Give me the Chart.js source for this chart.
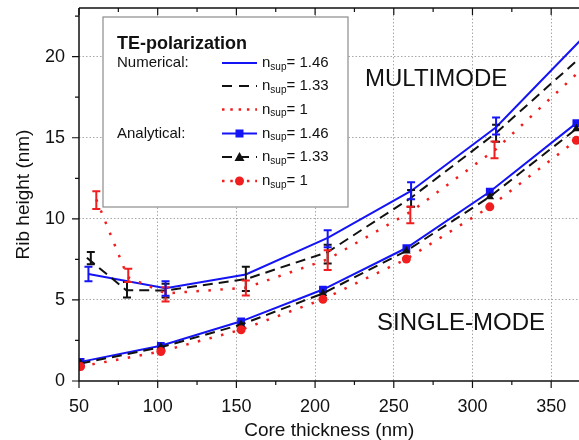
<!DOCTYPE html>
<html>
<head>
<meta charset="utf-8">
<script src="https://cdn.jsdelivr.net/npm/chart.js@4.4.0/dist/chart.umd.min.js"></script>
<style>
  html, body { margin: 0; padding: 0; background: #fff; overflow: hidden; }
  #wrap { width: 585px; height: 440px; }
</style>
</head>
<body>
<div id="wrap"><canvas id="ribChart"></canvas></div>
<script>
// numerical results (lines), TE polarization
const numX146 = [56, 105, 156, 208, 261, 315, 368];
const num146 = [6.6, 5.72, 6.57, 8.82, 11.72, 15.65, 20.95];
const numX133 = [55, 80, 105, 156, 208, 261, 315, 368];
const num133 = [7.6, 5.6, 5.58, 6.28, 7.95, 11.3, 15.3, 19.9];
const numX1 = [61, 81, 105, 156, 208, 261, 315, 368];
const num1 = [11.2, 6.4, 5.4, 5.75, 7.5, 10.45, 14.3, 19.1];

// analytical results (markers)
const anaX = [51, 102, 153, 205, 258, 311, 366];
const ana146 = [1.18, 2.17, 3.68, 5.64, 8.2, 11.67, 15.9];
const ana133 = [1.08, 2.08, 3.48, 5.4, 8.02, 11.36, 15.55];
const ana1 = [0.89, 1.82, 3.16, 5.04, 7.52, 10.74, 14.84];

// error bars on the numerical curves
const errX146 = [56, 105, 208, 261, 315];
const errLo146 = [6.15, 5.25, 8.25, 11.2, 15.2];
const errHi146 = [7.05, 6.15, 9.3, 12.25, 16.25];
const errX133 = [57.5, 80.5, 105, 156, 208, 261, 315];
const errLo133 = [7.2, 5.15, 5.15, 5.55, 7.25, 10.75, 14.75];
const errHi133 = [7.95, 6.1, 6.0, 7.05, 8.4, 11.78, 15.8];
const errX1 = [61, 81.3, 105, 156, 208, 260.5, 314];
const errLo1 = [10.6, 6.1, 4.9, 5.27, 6.85, 9.72, 13.74];
const errHi1 = [11.7, 6.92, 5.78, 6.2, 8.06, 10.75, 14.77];

const xTicks = [50, 75, 100, 125, 150, 175, 200, 225, 250, 275, 300, 325, 350];
const yTicks = [0, 2.5, 5, 7.5, 10, 12.5, 15, 17.5, 20, 22.5];

const BLUE = '#1414f5';
const RED = '#f01e1e';
const BLACK = '#111';
const FONT = '"Liberation Sans", Arial, sans-serif';

const pts = (xs, ys) => xs.map((x, i) => ({ x: x, y: ys[i] }));

const errSets = [
  { xs: errX133, lo: errLo133, hi: errHi133, color: BLACK },
  { xs: errX1, lo: errLo1, hi: errHi1, color: RED },
  { xs: errX146, lo: errLo146, hi: errHi146, color: BLUE }
];

function drawNsup(ctx, x, y, val) {
  ctx.fillStyle = BLACK;
  ctx.textAlign = 'left';
  ctx.textBaseline = 'middle';
  ctx.font = '15px ' + FONT;
  ctx.fillText('n', x, y);
  let w = ctx.measureText('n').width;
  ctx.font = '10px ' + FONT;
  ctx.fillText('sup', x + w, y + 4);
  w += ctx.measureText('sup').width;
  ctx.font = '15px ' + FONT;
  ctx.fillText('= ' + val, x + w, y);
}

const framePlugin = {
  id: 'frame',
  afterDatasetsDraw(chart) {
    const ctx = chart.ctx;
    const xs = chart.scales.x, ys = chart.scales.y;
    ctx.save();
    ctx.lineWidth = 2;
    errSets.forEach(s => {
      ctx.strokeStyle = s.color;
      s.xs.forEach((xv, i) => {
        const px = xs.getPixelForValue(xv);
        const p1 = ys.getPixelForValue(s.lo[i]);
        const p2 = ys.getPixelForValue(s.hi[i]);
        ctx.beginPath();
        ctx.moveTo(px, p1); ctx.lineTo(px, p2);
        ctx.moveTo(px - 4, p1); ctx.lineTo(px + 4, p1);
        ctx.moveTo(px - 4, p2); ctx.lineTo(px + 4, p2);
        ctx.stroke();
      });
    });
    ctx.restore();
  },
  afterDraw(chart) {
    const ctx = chart.ctx;
    const a = chart.chartArea;
    const xs = chart.scales.x, ys = chart.scales.y;
    ctx.save();
    // axes frame
    ctx.strokeStyle = BLACK;
    ctx.lineWidth = 1.5;
    ctx.beginPath();
    ctx.moveTo(a.left, a.top); ctx.lineTo(a.left, a.bottom); ctx.lineTo(a.right, a.bottom);
    ctx.moveTo(a.left, a.top); ctx.lineTo(a.right, a.top);
    ctx.stroke();
    ctx.lineWidth = 1.2;
    ctx.beginPath();
    xTicks.forEach(v => {
      const px = xs.getPixelForValue(v);
      const len = v % 50 === 0 ? 7 : 4;
      ctx.moveTo(px, a.bottom); ctx.lineTo(px, a.bottom + len);
      ctx.moveTo(px, a.top); ctx.lineTo(px, a.top + len);
    });
    yTicks.forEach(v => {
      const py = ys.getPixelForValue(v);
      const len = v % 5 === 0 ? 7 : 4;
      ctx.moveTo(a.left, py); ctx.lineTo(a.left - len, py);
    });
    ctx.stroke();

    // region labels
    ctx.fillStyle = BLACK;
    ctx.font = '24px ' + FONT;
    ctx.textBaseline = 'middle';
    ctx.textAlign = 'left';
    ctx.fillText('MULTIMODE', 365, 79);
    ctx.fillText('SINGLE-MODE', 377, 323);

    // legend box
    const bx = 103, by = 17, bw = 245, bh = 190;
    ctx.fillStyle = '#fff';
    ctx.fillRect(bx, by, bw, bh);
    ctx.strokeStyle = '#8c8c8c';
    ctx.lineWidth = 1.2;
    ctx.strokeRect(bx, by, bw, bh);

    ctx.fillStyle = BLACK;
    ctx.font = 'bold 18px ' + FONT;
    ctx.fillText('TE-polarization', 117, 44);
    ctx.font = '15px ' + FONT;
    ctx.fillText('Numerical:', 117, 63);
    ctx.fillText('Analytical:', 117, 134);

    const rows = [63, 86, 109.5, 133.5, 157, 181];
    const vals = ['1.46', '1.33', '1', '1.46', '1.33', '1'];
    const sx1 = 222, sx2 = 257, sc = 239.5;
    rows.forEach((ry, i) => {
      const k = i % 3;
      ctx.beginPath();
      ctx.lineWidth = 2;
      if (k === 0) { ctx.strokeStyle = BLUE; ctx.setLineDash([]); }
      if (k === 1) { ctx.strokeStyle = BLACK; ctx.setLineDash([10, 7]); }
      if (k === 2) { ctx.strokeStyle = RED; ctx.setLineDash([2.5, 5.8]); ctx.lineWidth = 2.5; }
      ctx.moveTo(sx1, ry); ctx.lineTo(sx2, ry);
      ctx.stroke();
      ctx.setLineDash([]);
      if (i >= 3) {
        if (k === 0) { ctx.fillStyle = BLUE; ctx.fillRect(sc - 4, ry - 4, 8, 8); }
        if (k === 1) {
          ctx.fillStyle = BLACK;
          ctx.beginPath();
          ctx.moveTo(sc, ry - 5); ctx.lineTo(sc + 5, ry + 4); ctx.lineTo(sc - 5, ry + 4);
          ctx.closePath(); ctx.fill();
        }
        if (k === 2) {
          ctx.fillStyle = RED;
          ctx.beginPath(); ctx.arc(sc, ry, 4.5, 0, Math.PI * 2); ctx.fill();
        }
      }
      drawNsup(ctx, 262, ry, vals[i]);
    });
    ctx.restore();
  }
};

const lineSet = (label, data, color, dash, width) => ({
  label: label,
  data: data,
  borderColor: color,
  backgroundColor: color,
  borderWidth: width,
  borderDash: dash,
  pointRadius: 0,
  tension: 0,
  fill: false
});

const markSet = (label, data, color, dash, width, style, r) => ({
  label: label,
  data: data,
  borderColor: color,
  backgroundColor: color,
  borderWidth: width,
  borderDash: dash,
  pointStyle: style,
  pointRadius: r,
  pointBorderWidth: 0,
  tension: 0,
  fill: false
});

new Chart(document.getElementById('ribChart'), {
  type: 'line',
  data: {
    datasets: [
      lineSet('Numerical n=1', pts(numX1, num1), RED, [2.5, 9.5], 2.5),
      lineSet('Numerical n=1.33', pts(numX133, num133), BLACK, [10, 6], 2),
      lineSet('Numerical n=1.46', pts(numX146, num146), BLUE, [], 2),
      markSet('Analytical n=1', pts(anaX, ana1), RED, [2.5, 9.5], 2.5, 'circle', 4.5),
      markSet('Analytical n=1.33', pts(anaX, ana133), BLACK, [10, 6], 2, 'triangle', 5),
      markSet('Analytical n=1.46', pts(anaX, ana146), BLUE, [], 2, 'rect', 5.5)
    ]
  },
  options: {
    responsive: true,
    maintainAspectRatio: false,
    animation: false,
    devicePixelRatio: 1,
    layout: { padding: { top: 8, right: 0, left: 0, bottom: 0 } },
    plugins: { legend: { display: false }, tooltip: { enabled: false } },
    scales: {
      x: {
        type: 'linear',
        min: 50,
        max: 368,
        afterBuildTicks: s => { s.ticks = xTicks.map(v => ({ value: v })); },
        afterFit: s => { s.height = 59; s.paddingLeft = 0; s.paddingRight = 0; },
        ticks: {
          autoSkip: false,
          maxRotation: 0,
          padding: 15,
          color: BLACK,
          font: { family: FONT, size: 18 },
          callback: v => (v % 50 === 0 ? String(v) : '')
        },
        grid: {
          drawTicks: false,
          color: c => (c.tick && c.tick.value % 50 === 0 && c.tick.value !== 50 ? '#a8a8a8' : 'transparent'),
          lineWidth: 1
        },
        border: { display: false, dash: [1.5, 2] },
        title: {
          display: true,
          text: 'Core thickness (nm)',
          color: BLACK,
          font: { family: FONT, size: 19, lineHeight: 1.0 },
          padding: { top: 0, bottom: 0 }
        }
      },
      y: {
        type: 'linear',
        min: 0,
        max: 23,
        afterBuildTicks: s => { s.ticks = yTicks.map(v => ({ value: v })); },
        afterFit: s => { s.width = 79; s.paddingTop = 0; s.paddingBottom = 0; },
        ticks: {
          autoSkip: false,
          padding: 14,
          color: BLACK,
          font: { family: FONT, size: 18 },
          callback: v => (v % 5 === 0 ? String(v) : '')
        },
        grid: {
          drawTicks: false,
          color: c => (c.tick && c.tick.value % 5 === 0 && c.tick.value !== 0 ? '#a8a8a8' : 'transparent'),
          lineWidth: 1
        },
        border: { display: false, dash: [1.5, 2] },
        title: {
          display: true,
          text: 'Rib height (nm)',
          color: BLACK,
          font: { family: FONT, size: 19 },
          padding: { top: 12, bottom: 0 }
        }
      }
    }
  },
  plugins: [framePlugin]
});
</script>
</body>
</html>
